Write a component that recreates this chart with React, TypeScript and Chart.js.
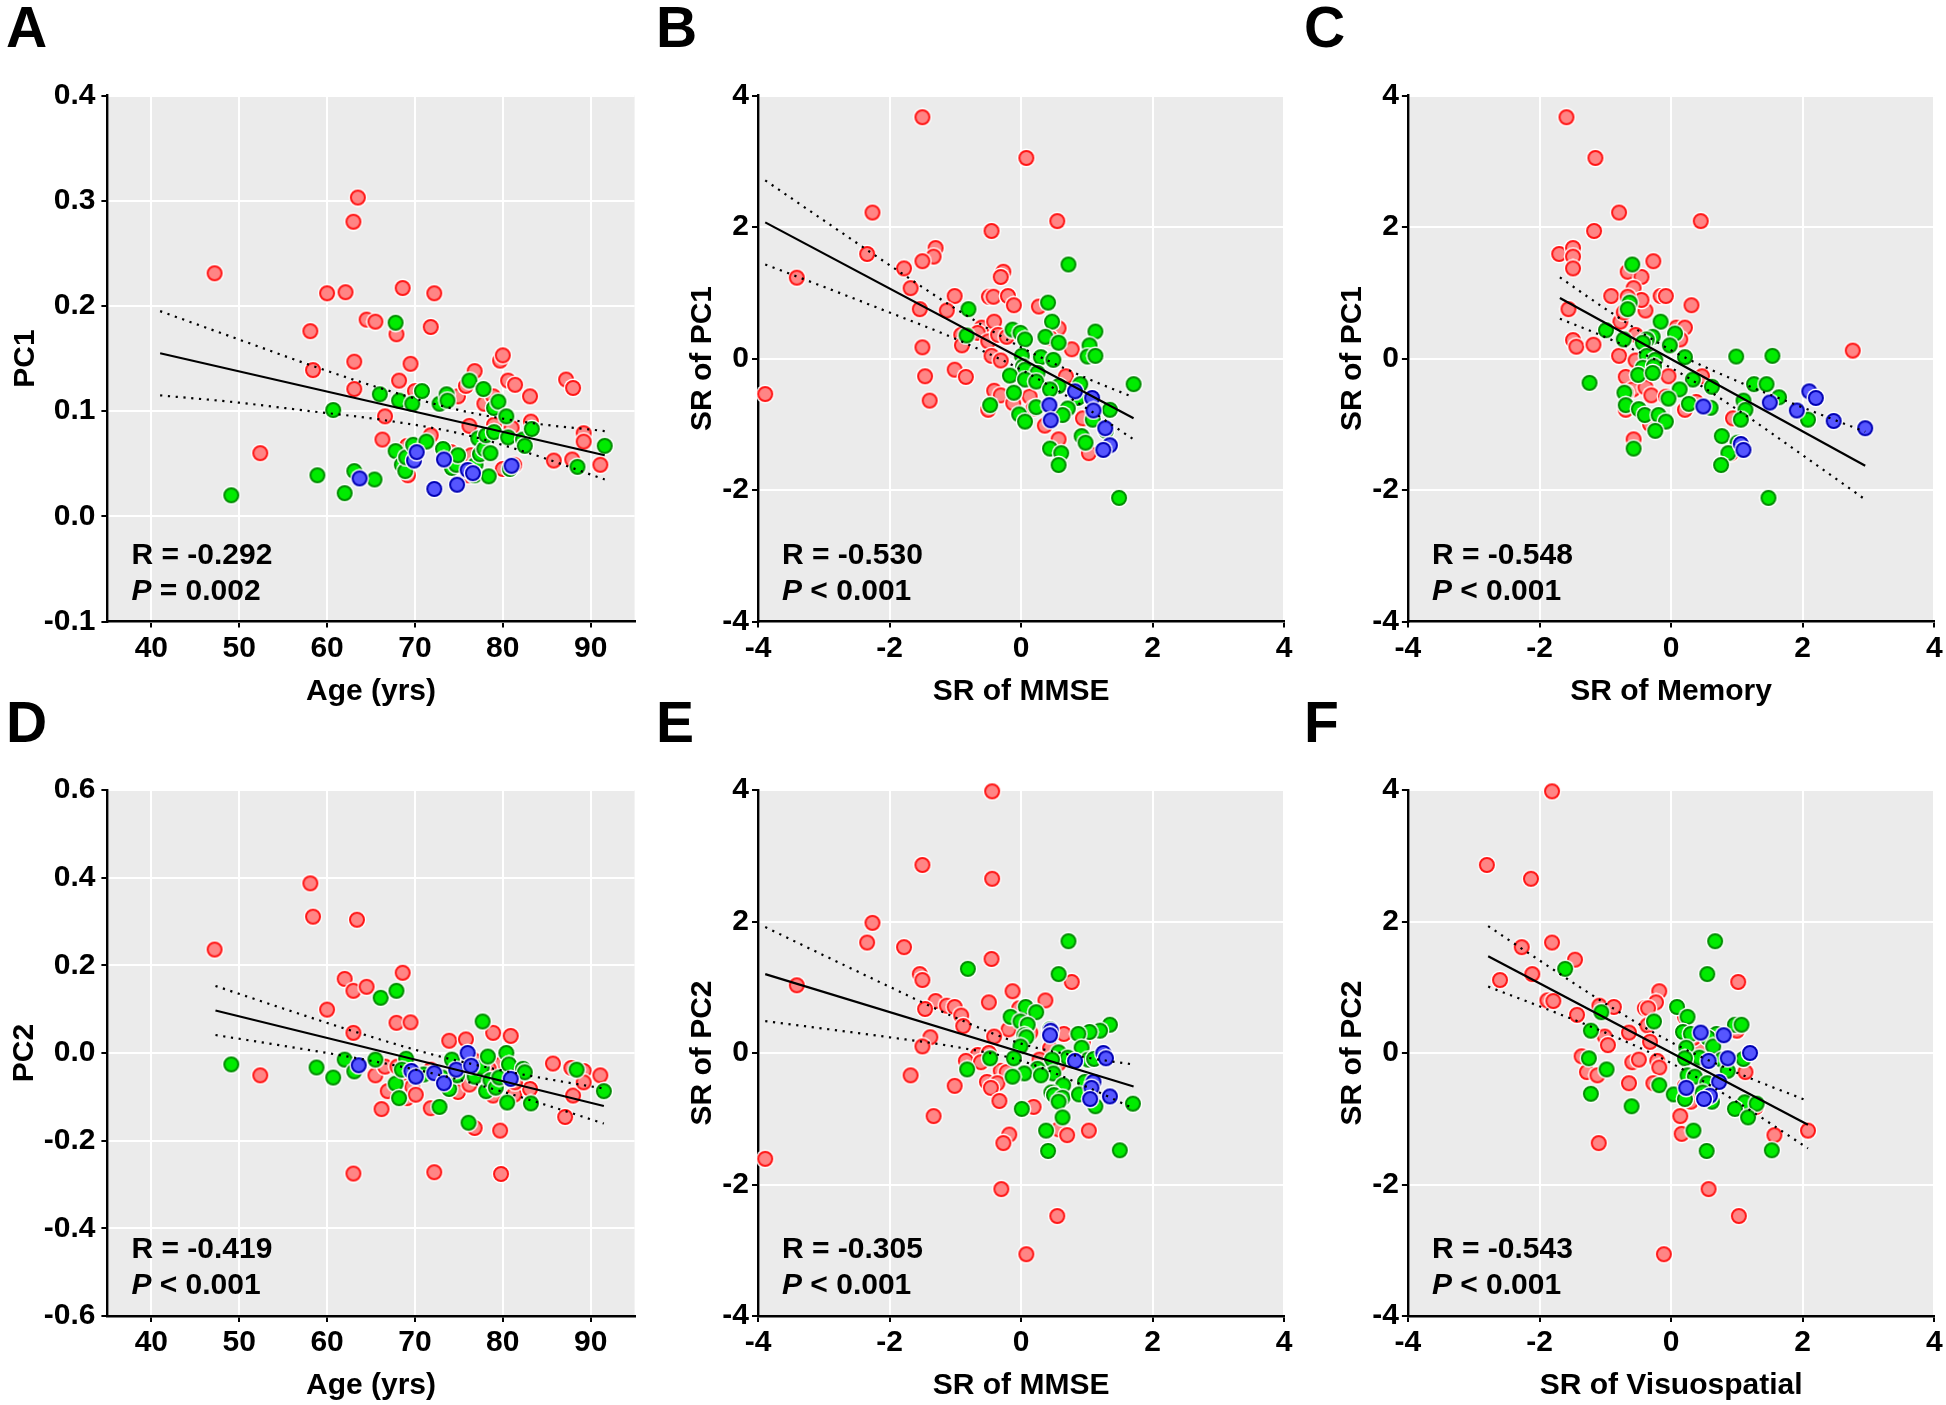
import { useEffect, useRef } from "react";
import { Chart, registerables } from "chart.js";
Chart.register(...registerables);

// ---------- tick labels ----------
const ageTicks = [40, 50, 60, 70, 80, 90];
const srTicks = [-4, -2, 0, 2, 4];
const pc1Ticks = [-0.1, 0, 0.1, 0.2, 0.3, 0.4];
const pc2Ticks = [-0.6, -0.4, -0.2, 0, 0.2, 0.4, 0.6];

// ---------- Panel A: Age vs PC1 ----------
const aRedX = [47.2, 52.4, 58.1, 58.4, 60.0, 62.1, 63.0, 63.5, 63.1, 63.1, 64.5, 65.5, 66.3, 66.6, 67.9, 68.6, 68.2, 69.5, 70.0, 69.1, 69.2, 71.8, 72.2, 71.8, 74.1, 74.9, 75.8, 76.8, 76.2, 76.4, 76.1, 77.9, 78.9, 79.0, 79.7, 80.0, 80.6, 81.4, 81.0, 80.0, 81.3, 83.1, 83.2, 85.8, 87.2, 88.0, 87.9, 89.2, 89.2, 91.1];
const aRedY = [0.231, 0.060, 0.176, 0.139, 0.212, 0.213, 0.280, 0.303, 0.147, 0.121, 0.187, 0.185, 0.073, 0.095, 0.173, 0.217, 0.129, 0.145, 0.119, 0.067, 0.039, 0.180, 0.212, 0.077, 0.061, 0.114, 0.124, 0.138, 0.086, 0.058, 0.039, 0.107, 0.114, 0.087, 0.148, 0.153, 0.129, 0.125, 0.084, 0.045, 0.049, 0.114, 0.090, 0.053, 0.130, 0.122, 0.054, 0.079, 0.071, 0.049];
const aGreenX = [49.1, 58.9, 60.7, 62.0, 63.1, 65.4, 66.0, 67.8, 68.2, 67.8, 68.5, 68.9, 69.0, 69.7, 69.8, 70.8, 71.3, 72.8, 73.6, 73.7, 73.2, 74.2, 74.7, 74.9, 76.2, 76.9, 76.8, 77.2, 77.8, 77.4, 77.9, 78.1, 78.6, 78.4, 79.0, 79.0, 79.5, 80.4, 80.6, 80.8, 82.3, 82.5, 83.3, 88.5, 91.6];
const aGreenY = [0.020, 0.039, 0.101, 0.022, 0.043, 0.035, 0.116, 0.184, 0.110, 0.062, 0.049, 0.043, 0.056, 0.107, 0.068, 0.119, 0.071, 0.107, 0.116, 0.110, 0.064, 0.046, 0.049, 0.058, 0.129, 0.049, 0.039, 0.074, 0.121, 0.059, 0.064, 0.077, 0.060, 0.038, 0.080, 0.103, 0.109, 0.095, 0.075, 0.045, 0.073, 0.067, 0.083, 0.047, 0.067];
const aBlueX = [63.7, 69.9, 70.2, 72.2, 73.3, 74.8, 76.0, 76.6, 81.0];
const aBlueY = [0.036, 0.053, 0.061, 0.026, 0.054, 0.030, 0.044, 0.041, 0.048];
const aFitX = [41, 91.6];
const aFitY = [0.155, 0.058];
const aCiX = [41, 50, 58, 66, 75, 83, 91.6];
const aCiUpper = [0.195, 0.168, 0.144, 0.122, 0.101, 0.089, 0.081];
const aCiLower = [0.115, 0.108, 0.100, 0.092, 0.079, 0.060, 0.035];

// ---------- Panel B: SR of MMSE vs SR of PC1 ----------
const bRedX = [-1.50, 0.08, -2.26, 0.55, -0.45, -2.34, -3.41, -1.30, -1.33, -1.50, -1.78, -0.27, -0.31, -1.68, -1.01, -1.54, -1.13, -0.49, -0.42, -0.20, -0.11, 0.27, -0.60, -0.41, -0.91, -0.90, -0.66, -0.50, -0.35, -0.22, -1.50, -0.45, -0.31, 0.57, 0.44, 0.77, -1.01, -1.46, -0.84, -1.39, 0.68, -0.41, -0.31, -0.12, 0.13, -0.50, 0.19, 0.36, 0.94, 0.57, 1.03, -3.89];
const bRedY = [3.67, 3.05, 2.22, 2.09, 1.94, 1.59, 1.23, 1.68, 1.55, 1.48, 1.37, 1.32, 1.24, 1.07, 0.95, 0.75, 0.73, 0.94, 0.94, 0.95, 0.81, 0.79, 0.47, 0.56, 0.36, 0.20, 0.39, 0.26, 0.36, 0.33, 0.17, 0.04, -0.03, 0.46, 0.31, 0.14, -0.17, -0.27, -0.28, -0.64, -0.27, -0.49, -0.56, -0.68, -0.58, -0.78, -0.76, -1.02, -0.91, -1.23, -1.44, -0.54];
const bGreenX = [0.72, 0.41, -0.80, 0.47, 1.13, -0.13, -0.01, 0.06, 0.37, 0.57, -0.83, 1.04, 1.01, 1.13, 0.01, 0.30, 0.49, 0.03, 0.06, 0.25, -0.17, 0.06, 0.23, 1.71, 0.90, 0.57, 0.44, -0.11, 0.86, -0.47, 0.23, 0.71, 1.35, 0.63, -0.03, 0.06, 1.09, 1.29, 0.92, 0.98, 0.44, 0.61, 0.57, 1.49];
const bGreenY = [1.43, 0.85, 0.75, 0.56, 0.41, 0.44, 0.39, 0.29, 0.33, 0.24, 0.35, 0.20, 0.03, 0.04, 0.04, 0.02, -0.02, -0.12, -0.17, -0.22, -0.26, -0.32, -0.35, -0.39, -0.39, -0.42, -0.47, -0.52, -0.60, -0.71, -0.74, -0.76, -0.78, -0.86, -0.85, -0.96, -0.93, -1.10, -1.18, -1.28, -1.37, -1.44, -1.62, -2.12];
const bBlueX = [0.82, 1.08, 1.10, 0.43, 0.45, 1.28, 1.35, 1.25];
const bBlueY = [-0.50, -0.60, -0.79, -0.71, -0.94, -1.06, -1.32, -1.39];
const bFitX = [-3.89, 1.71];
const bFitY = [2.07, -0.91];
const bCiX = [-3.89, -3, -2, -1, 0, 1, 1.71];
const bCiUpper = [2.71, 2.10, 1.42, 0.76, 0.17, -0.30, -0.59];
const bCiLower = [1.43, 1.09, 0.70, 0.30, -0.17, -0.76, -1.23];

// ---------- Panel C: SR of Memory vs SR of PC1 ----------
const cRedX = [-1.59, -1.15, -0.79, 0.45, -1.17, -1.70, -1.49, -1.49, -1.49, -0.27, -0.66, -0.45, -0.57, -0.91, -0.16, -0.08, -1.56, -0.39, -0.45, 0.31, -0.66, -0.77, 0.08, 0.21, 0.14, -0.54, -1.49, -1.44, -1.18, -0.79, -0.54, 2.76, -0.69, -0.58, -0.39, -0.30, -0.04, 0.47, -0.08, -0.69, 0.21, 0.38, 0.94, 0.91, -0.57, -0.32, -0.69, -0.72];
const cRedY = [3.67, 3.05, 2.22, 2.09, 1.94, 1.59, 1.68, 1.55, 1.37, 1.48, 1.32, 1.24, 1.07, 0.95, 0.95, 0.95, 0.75, 0.73, 0.89, 0.81, 0.94, 0.56, 0.47, 0.47, 0.29, 0.36, 0.28, 0.18, 0.21, 0.04, -0.03, 0.12, -0.28, -0.47, -0.44, -0.56, -0.27, -0.27, -0.58, -0.78, -0.78, -0.66, -0.91, -1.44, -1.23, -1.00, -0.52, 0.70];
const cGreenX = [-0.59, -0.63, -0.66, -0.16, -0.99, 0.06, -0.28, -0.37, -0.72, -0.43, -0.02, 0.99, 1.54, -0.37, 0.21, -0.24, -0.43, -0.26, -0.50, -0.28, 0.33, -1.24, 1.26, 1.45, 0.62, 0.13, -0.71, 1.64, -0.04, 1.10, -0.69, 0.27, 0.60, 1.13, -0.49, -0.40, -0.19, -0.08, 1.06, 2.08, -0.24, 0.77, 1.01, -0.57, 0.87, 0.76, 1.48];
const cGreenY = [1.43, 0.85, 0.75, 0.56, 0.43, 0.38, 0.33, 0.29, 0.29, 0.24, 0.20, 0.03, 0.04, 0.04, 0.02, -0.02, -0.14, -0.12, -0.25, -0.22, -0.32, -0.37, -0.39, -0.39, -0.43, -0.47, -0.52, -0.59, -0.61, -0.64, -0.71, -0.69, -0.75, -0.78, -0.77, -0.86, -0.86, -0.96, -0.93, -0.93, -1.10, -1.18, -1.28, -1.37, -1.44, -1.62, -2.12];
const cBlueX = [2.10, 2.20, 1.50, 0.49, 1.91, 2.47, 2.95, 1.06, 1.10];
const cBlueY = [-0.50, -0.60, -0.67, -0.73, -0.79, -0.95, -1.06, -1.30, -1.39];
const cFitX = [-1.69, 2.95];
const cFitY = [0.92, -1.63];
const cCiX = [-1.69, -1, 0, 1, 2, 2.95];
const cCiUpper = [1.235, 0.757, 0.125, -0.342, -0.745, -1.115];
const cCiLower = [0.605, 0.325, -0.143, -0.774, -1.471, -2.145];

// ---------- Panel D: Age vs PC2 ----------
const dRedX = [47.2, 52.4, 58.1, 58.4, 60.0, 62.0, 63.0, 63.4, 63.0, 64.5, 65.5, 66.2, 66.6, 66.9, 67.9, 68.6, 69.5, 68.0, 68.8, 69.1, 69.7, 70.1, 71.8, 72.2, 71.8, 73.9, 74.9, 75.8, 76.8, 76.2, 76.6, 78.9, 78.9, 79.7, 79.8, 79.8, 80.9, 81.3, 83.1, 81.4, 85.7, 87.1, 87.8, 88.0, 89.2, 89.2, 91.1, 63.0, 78.4];
const dRedY = [0.236, -0.051, 0.387, 0.311, 0.099, 0.169, 0.142, 0.304, 0.046, 0.151, -0.051, -0.128, -0.031, -0.087, 0.069, 0.183, 0.070, -0.031, -0.046, -0.103, -0.077, -0.095, -0.126, -0.272, -0.038, 0.028, -0.089, 0.031, -0.171, -0.072, -0.015, 0.046, -0.097, -0.177, -0.276, -0.026, 0.039, -0.095, -0.082, -0.067, -0.024, -0.146, -0.034, -0.097, -0.041, -0.067, -0.051, -0.275, -0.036];
const dGreenX = [49.1, 58.8, 60.7, 62.0, 63.1, 65.5, 66.1, 67.9, 67.8, 68.2, 69.0, 68.5, 71.0, 72.8, 73.1, 73.9, 74.2, 74.8, 76.1, 76.8, 77.6, 77.7, 78.3, 78.1, 78.6, 79.2, 79.6, 80.4, 80.7, 80.5, 82.3, 82.5, 83.2, 88.4, 91.5];
const dGreenY = [-0.026, -0.033, -0.056, -0.015, -0.042, -0.015, 0.126, 0.142, -0.070, -0.103, -0.013, -0.038, -0.049, -0.123, -0.056, -0.082, -0.015, -0.051, -0.159, -0.054, -0.033, 0.072, -0.008, -0.087, -0.062, -0.079, -0.056, 0.000, -0.026, -0.113, -0.036, -0.044, -0.115, -0.038, -0.087];
const dBlueX = [63.6, 69.6, 70.1, 72.2, 73.3, 74.7, 76.0, 76.4, 80.9];
const dBlueY = [-0.028, -0.041, -0.054, -0.046, -0.069, -0.038, 0.000, -0.029, -0.059];
const dFitX = [47.3, 91.5];
const dFitY = [0.097, -0.121];
const dCiX = [47.3, 55, 63, 70, 74, 80, 86, 91.5];
const dCiUpper = [0.153, 0.1015, 0.0496, 0.0075, -0.0137, -0.0402, -0.0626, -0.081];
const dCiLower = [0.041, 0.0165, -0.0104, -0.0375, -0.0558, -0.0884, -0.1254, -0.161];

// ---------- Panel E: SR of MMSE vs SR of PC2 ----------
const eRedX = [-0.44, -1.50, -0.44, -2.26, -2.34, -1.78, -0.45, -1.54, -1.50, 0.77, -3.41, -0.13, 0.37, -0.49, -1.30, -1.13, -1.01, -1.46, -0.03, -0.91, -0.88, -0.19, 0.14, 0.65, -0.41, -1.38, -1.50, 0.94, 0.44, -0.66, -0.49, -0.84, -0.61, 0.28, 0.57, -0.31, -0.22, -1.68, -0.52, -0.36, -0.46, -1.01, -0.33, 0.19, -1.33, 1.03, 0.57, 0.70, -0.18, -0.27, -3.89, -0.30, 0.55, 0.08];
const eRedY = [3.98, 2.86, 2.65, 1.98, 1.68, 1.61, 1.43, 1.20, 1.11, 1.08, 1.03, 0.94, 0.80, 0.77, 0.79, 0.72, 0.70, 0.67, 0.68, 0.57, 0.41, 0.36, 0.31, 0.29, 0.25, 0.24, 0.10, 0.17, 0.07, -0.03, 0.00, -0.12, -0.14, -0.10, -0.16, -0.27, -0.29, -0.34, -0.44, -0.46, -0.53, -0.50, -0.73, -0.82, -0.96, -1.18, -1.16, -1.25, -1.24, -1.37, -1.61, -2.07, -2.48, -3.06];
const eGreenX = [0.72, -0.81, 0.57, 0.07, 0.23, -0.16, -0.01, 0.10, 1.35, 1.20, 1.04, 0.44, 0.87, 0.05, 0.08, 0.92, -0.01, 0.57, 0.71, 0.47, 1.02, 1.11, -0.11, -0.47, -0.82, 0.25, 0.49, 0.05, -0.13, 0.30, 0.64, 0.97, 0.46, 0.50, 0.63, 0.57, 0.88, 1.13, 1.70, 0.01, 0.63, 0.38, 0.41, 1.50];
const eGreenY = [1.70, 1.28, 1.20, 0.70, 0.62, 0.55, 0.48, 0.43, 0.43, 0.34, 0.32, 0.36, 0.29, 0.27, 0.24, 0.08, 0.10, 0.01, -0.07, -0.10, -0.10, -0.09, -0.08, -0.08, -0.25, -0.24, -0.31, -0.31, -0.36, -0.34, -0.49, -0.44, -0.60, -0.64, -0.68, -0.74, -0.63, -0.81, -0.77, -0.85, -0.98, -1.18, -1.49, -1.48];
const eBlueX = [0.45, 0.44, 1.25, 1.29, 0.82, 1.10, 1.07, 1.05, 1.35];
const eBlueY = [0.34, 0.27, 0.00, -0.08, -0.12, -0.44, -0.53, -0.70, -0.66];
const eFitX = [-3.89, 1.71];
const eFitY = [1.20, -0.51];
const eCiX = [-3.89, -3, -2, -1, 0, 1, 1.71];
const eCiUpper = [1.915, 1.485, 1.007, 0.54, 0.142, -0.07, -0.175];
const eCiLower = [0.485, 0.371, 0.239, 0.094, -0.118, -0.516, -0.845];

// ---------- Panel F: SR of Visuospatial vs SR of PC2 ----------
const fRedX = [-1.81, -2.80, -2.13, -2.27, -1.81, -1.46, -2.11, -2.60, 1.02, -0.18, -0.23, -1.88, -1.79, -1.09, -0.87, -0.40, -0.35, -1.43, -0.36, -0.64, -1.01, -0.96, -0.32, -1.36, 1.00, 0.42, -0.59, -0.49, -0.21, -0.18, -1.28, -1.12, 1.13, -0.64, -0.27, 0.21, 0.30, 1.29, 0.14, 0.16, 1.57, 2.08, -1.10, 0.57, 1.03, -0.11, 0.21, 0.34];
const fRedY = [3.98, 2.86, 2.65, 1.61, 1.68, 1.42, 1.20, 1.11, 1.08, 0.94, 0.77, 0.80, 0.79, 0.72, 0.70, 0.68, 0.68, 0.58, 0.42, 0.31, 0.25, 0.12, 0.17, -0.05, 0.34, 0.07, -0.14, -0.10, -0.12, -0.22, -0.29, -0.34, -0.29, -0.46, -0.46, -0.50, -0.74, -0.82, -0.96, -1.23, -1.25, -1.18, -1.37, -2.07, -2.48, -3.06, 0.55, 0.23];
const fGreenX = [0.67, -1.61, 0.55, 0.09, 0.25, -1.06, -0.26, 0.97, 1.07, -1.22, 0.18, 0.30, 0.69, 0.56, 0.23, 0.64, 0.43, 0.21, -1.25, 1.10, 0.77, 0.86, -0.98, 0.25, 0.36, 0.55, -0.18, 0.04, -1.22, 0.21, 0.48, 0.62, -0.60, 1.12, 1.30, 0.97, 1.17, 0.34, 0.54, 1.53];
const fGreenY = [1.70, 1.28, 1.20, 0.70, 0.55, 0.62, 0.48, 0.43, 0.43, 0.34, 0.32, 0.29, 0.29, 0.23, 0.08, 0.10, -0.07, -0.08, -0.08, -0.09, -0.10, -0.27, -0.25, -0.34, -0.36, -0.46, -0.49, -0.63, -0.62, -0.70, -0.60, -0.74, -0.81, -0.75, -0.77, -0.85, -0.98, -1.18, -1.49, -1.48];
const fBlueX = [0.45, 0.80, 1.20, 0.57, 0.86, 0.73, 0.23, 0.59, 0.50];
const fBlueY = [0.31, 0.27, 0.00, -0.12, -0.08, -0.44, -0.53, -0.65, -0.70];
const fFitX = [-2.78, 2.08];
const fFitY = [1.47, -1.09];
const fCiX = [-2.78, -2, -1, 0, 1, 2.08];
const fCiUpper = [1.93, 1.408, 0.754, 0.165, -0.299, -0.73];
const fCiLower = [1.01, 0.71, 0.31, -0.153, -0.743, -1.45];

// ---------- styling ----------
const FONT = '"Liberation Sans", Arial, Helvetica, sans-serif';
const PLOT_BG = "#ebebeb";
const RED = { fill: "#ff8585", stroke: "#ff1414" };
const GREEN = { fill: "#00ec00", stroke: "#008a00" };
const BLUE = { fill: "#5656ff", stroke: "#0000b4" };

function zip(xs: number[], ys: number[]) {
  return xs.map((x, i) => ({ x, y: ys[i] }));
}

function makeMarker(c: { fill: string; stroke: string }) {
  const cv = document.createElement("canvas");
  cv.width = 20;
  cv.height = 20;
  const g = cv.getContext("2d")!;
  g.beginPath();
  g.arc(10, 10, 9.4, 0, Math.PI * 2);
  g.fillStyle = "#ffffff";
  g.fill();
  g.beginPath();
  g.arc(10, 10, 7, 0, Math.PI * 2);
  g.fillStyle = c.fill;
  g.fill();
  g.lineWidth = 2;
  g.strokeStyle = c.stroke;
  g.stroke();
  return cv;
}

type PanelDef = {
  letter: string;
  left: number;
  top: number;
  w: number;
  h: number;
  yW: number;
  padR: number;
  chartTop: number;
  chartBottom: number;
  xMin: number;
  xMax: number;
  xTicks: number[];
  yMin: number;
  yMax: number;
  yTicks: number[];
  yDec: number;
  yPad: number;
  xTitle: string;
  yTitle: string;
  yTitleX: number;
  letterX: number;
  letterY: number;
  r: string;
  pOp: string;
  pVal: string;
  red: [number[], number[]];
  green: [number[], number[]];
  blue: [number[], number[]];
  fit: [number[], number[]];
  ci: [number[], number[], number[]];
};

const panels: PanelDef[] = [
  {
    letter: "A", left: 0, top: 0, w: 650, h: 720, yW: 107.4, padR: 15.4, chartTop: 95.5, chartBottom: 621.5,
    xMin: 35, xMax: 95, xTicks: ageTicks, yMin: -0.1, yMax: 0.4, yTicks: pc1Ticks, yDec: 1, yPad: 6,
    xTitle: "Age (yrs)", yTitle: "PC1", yTitleX: 23, letterX: 6, letterY: 47,
    r: "-0.292", pOp: "=", pVal: "0.002",
    red: [aRedX, aRedY], green: [aGreenX, aGreenY], blue: [aBlueX, aBlueY],
    fit: [aFitX, aFitY], ci: [aCiX, aCiUpper, aCiLower],
  },
  {
    letter: "B", left: 650, top: 0, w: 646, h: 720, yW: 108, padR: 11.8, chartTop: 95.5, chartBottom: 621.5,
    xMin: -4, xMax: 4, xTicks: srTicks, yMin: -4, yMax: 4, yTicks: srTicks, yDec: 0, yPad: 3,
    xTitle: "SR of MMSE", yTitle: "SR of PC1", yTitleX: 50, letterX: 6, letterY: 47,
    r: "-0.530", pOp: "<", pVal: "0.001",
    red: [bRedX, bRedY], green: [bGreenX, bGreenY], blue: [bBlueX, bBlueY],
    fit: [bFitX, bFitY], ci: [bCiX, bCiUpper, bCiLower],
  },
  {
    letter: "C", left: 1296, top: 0, w: 650, h: 720, yW: 111.9, padR: 11.7, chartTop: 95.5, chartBottom: 621.5,
    xMin: -4, xMax: 4, xTicks: srTicks, yMin: -4, yMax: 4, yTicks: srTicks, yDec: 0, yPad: 3,
    xTitle: "SR of Memory", yTitle: "SR of PC1", yTitleX: 54, letterX: 8, letterY: 47,
    r: "-0.548", pOp: "<", pVal: "0.001",
    red: [cRedX, cRedY], green: [cGreenX, cGreenY], blue: [cBlueX, cBlueY],
    fit: [cFitX, cFitY], ci: [cCiX, cCiUpper, cCiLower],
  },
  {
    letter: "D", left: 0, top: 700, w: 650, h: 705, yW: 107.4, padR: 15.4, chartTop: 90, chartBottom: 616,
    xMin: 35, xMax: 95, xTicks: ageTicks, yMin: -0.6, yMax: 0.6, yTicks: pc2Ticks, yDec: 1, yPad: 6,
    xTitle: "Age (yrs)", yTitle: "PC2", yTitleX: 22, letterX: 6, letterY: 42,
    r: "-0.419", pOp: "<", pVal: "0.001",
    red: [dRedX, dRedY], green: [dGreenX, dGreenY], blue: [dBlueX, dBlueY],
    fit: [dFitX, dFitY], ci: [dCiX, dCiUpper, dCiLower],
  },
  {
    letter: "E", left: 650, top: 700, w: 646, h: 705, yW: 108, padR: 11.8, chartTop: 90, chartBottom: 616,
    xMin: -4, xMax: 4, xTicks: srTicks, yMin: -4, yMax: 4, yTicks: srTicks, yDec: 0, yPad: 3,
    xTitle: "SR of MMSE", yTitle: "SR of PC2", yTitleX: 50, letterX: 6, letterY: 42,
    r: "-0.305", pOp: "<", pVal: "0.001",
    red: [eRedX, eRedY], green: [eGreenX, eGreenY], blue: [eBlueX, eBlueY],
    fit: [eFitX, eFitY], ci: [eCiX, eCiUpper, eCiLower],
  },
  {
    letter: "F", left: 1296, top: 700, w: 650, h: 705, yW: 111.9, padR: 11.7, chartTop: 90, chartBottom: 616,
    xMin: -4, xMax: 4, xTicks: srTicks, yMin: -4, yMax: 4, yTicks: srTicks, yDec: 0, yPad: 3,
    xTitle: "SR of Visuospatial", yTitle: "SR of PC2", yTitleX: 54, letterX: 8, letterY: 42,
    r: "-0.543", pOp: "<", pVal: "0.001",
    red: [fRedX, fRedY], green: [fGreenX, fGreenY], blue: [fBlueX, fBlueY],
    fit: [fFitX, fFitY], ci: [fCiX, fCiUpper, fCiLower],
  },
];

function buildConfig(p: PanelDef): any {
  const redM = makeMarker(RED);
  const greenM = makeMarker(GREEN);
  const blueM = makeMarker(BLUE);
  const pointDs = (pts: any[], img: HTMLCanvasElement, order: number) => ({
    data: pts,
    pointStyle: img,
    pointRadius: 8,
    pointHoverRadius: 8,
    showLine: false,
    clip: false,
    order,
  });
  const lineDs = (pts: any[], dashed: boolean) => ({
    data: pts,
    showLine: true,
    pointRadius: 0,
    pointHoverRadius: 0,
    borderColor: "#000",
    borderWidth: dashed ? 2.2 : 2.2,
    borderDash: dashed ? [2.2, 5.6] : [],
    borderCapStyle: "butt",
    cubicInterpolationMode: dashed ? "monotone" : "default",
    tension: 0,
    fill: false,
    clip: false,
    order: 0,
  });

  const bgPlugin = {
    id: "plotBg",
    beforeDraw(chart: any) {
      const { ctx, chartArea: a } = chart;
      ctx.save();
      ctx.fillStyle = PLOT_BG;
      ctx.fillRect(a.left, a.top, a.right - a.left, a.bottom - a.top);
      ctx.restore();
    },
  };

  const textPlugin = {
    id: "panelText",
    afterDraw(chart: any) {
      const { ctx, chartArea: a } = chart;
      ctx.save();
      ctx.fillStyle = "#000";
      // panel letter
      ctx.font = `bold 57px ${FONT}`;
      ctx.textAlign = "left";
      ctx.textBaseline = "alphabetic";
      ctx.fillText(p.letter, p.letterX, p.letterY);
      // x title
      ctx.font = `bold 30px ${FONT}`;
      ctx.textAlign = "center";
      ctx.fillText(p.xTitle, (a.left + a.right) / 2, a.bottom + 78);
      // y title
      ctx.save();
      ctx.translate(p.yTitleX + 10.7, (a.top + a.bottom) / 2);
      ctx.rotate(-Math.PI / 2);
      ctx.textAlign = "center";
      ctx.fillText(p.yTitle, 0, 0);
      ctx.restore();
      // stats
      const sx = a.left + 24;
      ctx.textAlign = "left";
      ctx.font = `bold 30px ${FONT}`;
      ctx.fillText(`R = ${p.r}`, sx, a.bottom - 58);
      ctx.font = `italic bold 30px ${FONT}`;
      ctx.fillText("P", sx, a.bottom - 22);
      const pw = ctx.measureText("P").width;
      ctx.font = `bold 30px ${FONT}`;
      ctx.fillText(` ${p.pOp} ${p.pVal}`, sx + pw, a.bottom - 22);
      ctx.restore();
    },
  };

  const tickFont = { family: FONT, size: 30, weight: "bold" as const };

  return {
    type: "scatter",
    data: {
      datasets: [
        lineDs(zip(p.fit[0], p.fit[1]), false),
        lineDs(zip(p.ci[0], p.ci[1]), true),
        lineDs(zip(p.ci[0], p.ci[2]), true),
        pointDs(zip(p.blue[0], p.blue[1]), blueM, 1),
        pointDs(zip(p.green[0], p.green[1]), greenM, 2),
        pointDs(zip(p.red[0], p.red[1]), redM, 3),
      ],
    },
    options: {
      responsive: false,
      maintainAspectRatio: false,
      animation: false,
      devicePixelRatio: 1,
      events: [],
      layout: { padding: { left: 0, top: p.chartTop, right: p.padR, bottom: 0 } },
      plugins: { legend: { display: false }, tooltip: { enabled: false } },
      scales: {
        x: {
          type: "linear",
          position: "bottom",
          min: p.xMin,
          max: p.xMax,
          afterBuildTicks: (s: any) => {
            s.ticks = p.xTicks.map((v) => ({ value: v }));
          },
          afterFit: (s: any) => {
            s.height = p.h - p.chartBottom;
          },
          ticks: {
            font: tickFont,
            color: "#000",
            padding: 3,
            maxRotation: 0,
            autoSkip: false,
            callback: (v: any) => String(v),
          },
          grid: {
            color: "#ffffff",
            lineWidth: 2,
            tickColor: "#000",
            tickLength: 6,
            tickWidth: 2,
            drawOnChartArea: true,
          },
          border: { display: true, color: "#000", width: 2.4 },
        },
        y: {
          type: "linear",
          position: "left",
          min: p.yMin,
          max: p.yMax,
          afterBuildTicks: (s: any) => {
            s.ticks = p.yTicks.map((v) => ({ value: v }));
          },
          afterFit: (s: any) => {
            s.width = p.yW;
          },
          ticks: {
            font: tickFont,
            color: "#000",
            padding: p.yPad,
            autoSkip: false,
            callback: (v: any) => Number(v).toFixed(p.yDec),
          },
          grid: {
            color: "#ffffff",
            lineWidth: 2,
            tickColor: "#000",
            tickLength: 6,
            tickWidth: 2,
            drawOnChartArea: true,
          },
          border: { display: true, color: "#000", width: 2.4 },
        },
      },
    },
    plugins: [bgPlugin, textPlugin],
  };
}

function Panel({ p }: { p: PanelDef }) {
  const ref = useRef<HTMLCanvasElement | null>(null);
  useEffect(() => {
    if (!ref.current) return;
    const chart = new Chart(ref.current, buildConfig(p));
    return () => chart.destroy();
  }, [p]);
  return (
    <canvas
      ref={ref}
      width={p.w}
      height={p.h}
      style={{ position: "absolute", left: p.left, top: p.top, width: p.w, height: p.h }}
    />
  );
}

export default function App() {
  return (
    <div
      style={{
        position: "absolute",
        left: 0,
        top: 0,
        width: 1946,
        height: 1405,
        background: "#ffffff",
        overflow: "hidden",
      }}
    >
      {panels.map((p) => (
        <Panel key={p.letter} p={p} />
      ))}
    </div>
  );
}
